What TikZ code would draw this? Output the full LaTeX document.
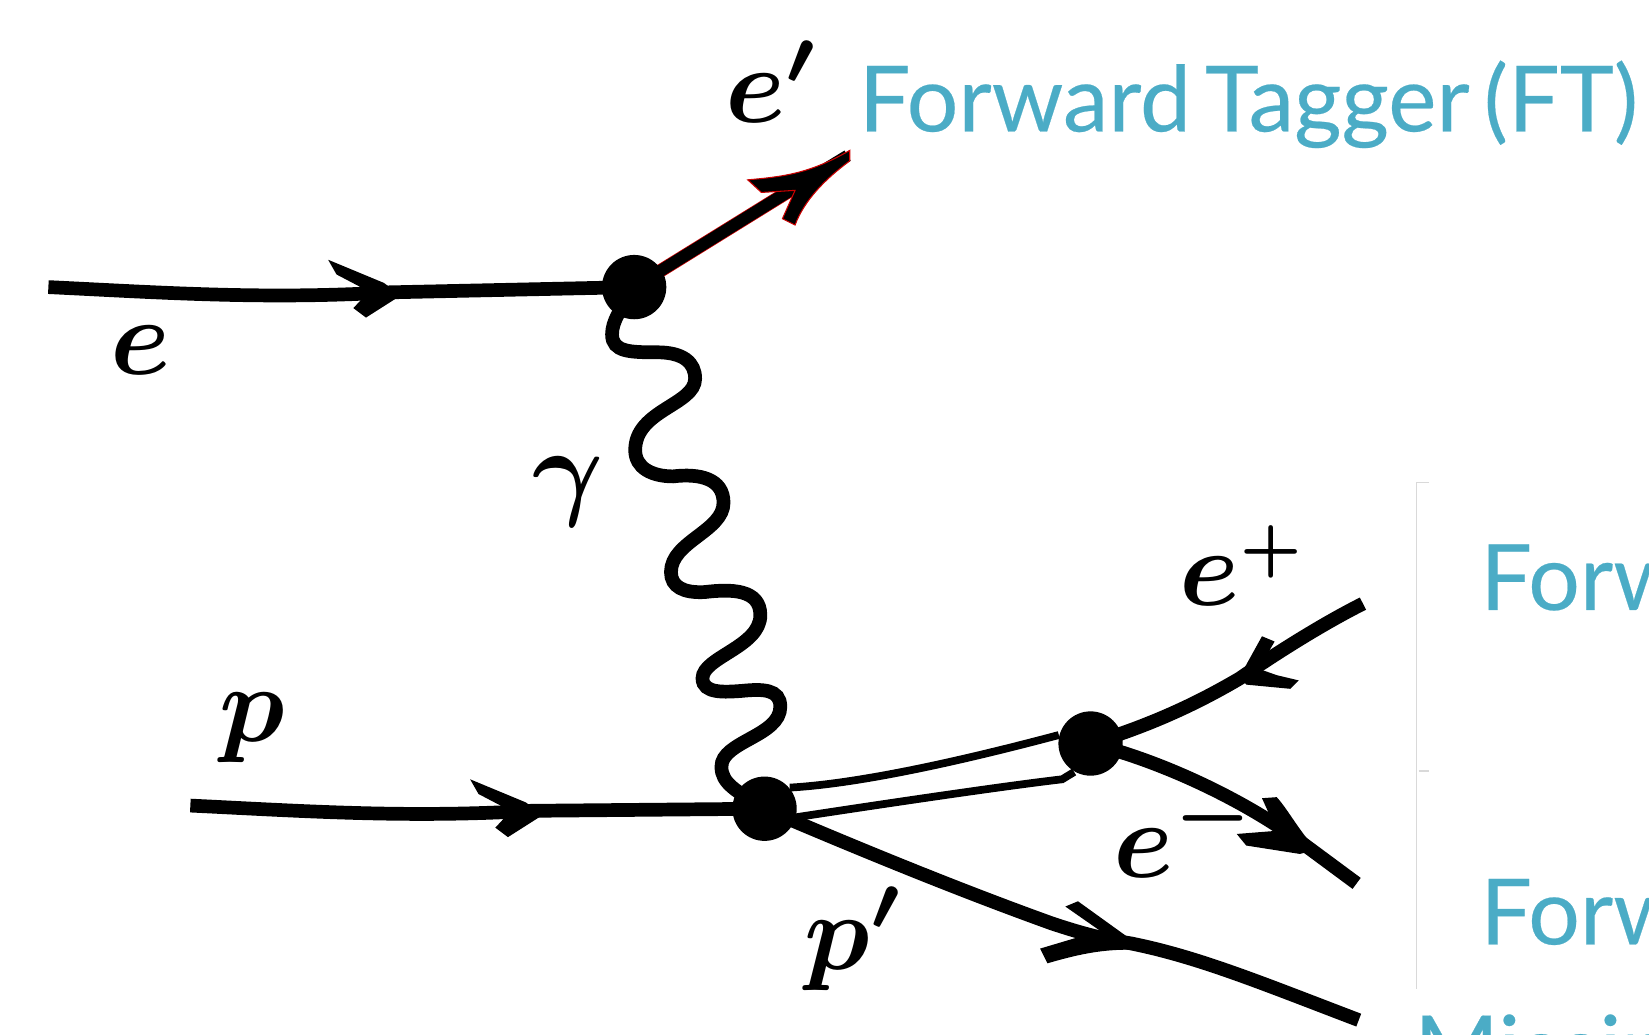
\documentclass[tikz,border=0pt]{standalone}
\usepackage{amsmath,amssymb}
\usepackage{xcolor}
\usepackage{fontspec}
\setmainfont{Lato}[WordSpace=0.6]
\definecolor{ftblue}{HTML}{4BACC6}
\tikzset{
  vertexdot/.style={circle,fill=black,inner sep=0pt,minimum size=18.3pt},
  leg/.style={line width=3.9pt},
  thinleg/.style={line width=2.2pt},
  tiplabel/.style={scale=3.1,inner sep=0pt},
  detector/.style={text=ftblue,anchor=base west,inner sep=0pt,font=\fontsize{26}{28}\selectfont\addfontfeature{FakeBold=0.25}},
  bracket/.style={black!15,line width=0.4pt},
}
\begin{document}
\begin{tikzpicture}[x=0.10517mm,y=-0.10517mm]
        \useasboundingbox (0,0) rectangle (1568,984);
        \clip (0,0) rectangle (1568,984);
        \coordinate (ein) at (46,273);
        \coordinate (eout) at (806,148);
        \coordinate (pin) at (181,766);
        \coordinate (pout) at (1292,970);
        \coordinate (eplus) at (1296,574);
        \coordinate (eminus) at (1290,840);
        \coordinate (ebend) at (750,182);
        \draw[red!80!black,line width=3.8pt] (603,273) -- (ebend);
        \node[vertexdot] at (603,273) (A) {};
        \node[vertexdot] at (727,769) (B) {};
        \node[vertexdot] at (1037,707) (C) {};
        % incoming and outgoing legs
        \draw[leg] (ein) .. controls (150,278) and (250,285) .. (370,278) -- (A.center);
        \draw[leg] (pin) .. controls (285,771) and (385,778) .. (505,771) -- (B.center);
        \draw[line width=3.4pt] (A.center) -- (ebend) -- (eout);
        \draw[leg] (B.center) .. controls (800,800) and (900,842) .. (1000,878) .. controls (1030,888) and (1050,893) .. (1075,897) .. controls (1140,910) and (1200,935) .. (pout);
        \draw[leg] (C.center) .. controls (1100,688) and (1145,665) .. (1179,645) .. controls (1215,620) and (1260,592) .. (eplus);
        \draw[leg] (C.center) .. controls (1110,725) and (1190,765) .. (1240,803) -- (eminus);
        % pair line
        \draw[thinleg] (B.40) .. controls (820,745) and (920,722) .. (C.165);
        \draw[thinleg] (B.-15) .. controls (830,766) and (950,748) .. (1010,741) -- (C.240);
        % photon
        \draw[line width=3.9pt] (A.center) .. controls (590,295) and (582,305) .. (582,318)
            .. controls (582,335) and (600,335) .. (625,335)
            .. controls (650,335) and (661,345) .. (661,360)
            .. controls (661,385) and (604,390) .. (604,428)
            .. controls (604,445) and (620,453) .. (640,453)
            .. controls (665,450) and (688,455) .. (688,478)
            .. controls (688,505) and (638,515) .. (638,544)
            .. controls (638,558) and (650,564) .. (670,563)
            .. controls (695,560) and (723,560) .. (723,585)
            .. controls (723,615) and (668,625) .. (668,645)
            .. controls (668,660) and (690,658) .. (705,657)
            .. controls (725,655) and (742,655) .. (742,672)
            .. controls (742,700) and (686,705) .. (686,729)
            .. controls (686,745) and (700,752) .. (B.center);
        % arrow heads
        \fill (381,281) -- (365,269) -- (312,247) -- (320,261) -- (341,272) -- (350,278) -- (336,293) -- (348,302) -- cycle;
        \fill (516,775) -- (500,763) -- (447,741) -- (455,755) -- (476,766) -- (485,772) -- (471,787) -- (483,796) -- cycle;
        \filldraw[draw=red!80!black,line width=0.3pt] (808,143) .. controls (770,165) and (745,168) .. (711,171) -- (724,183) -- (756,181) -- (744,208) -- (756,214) .. controls (765,190) and (785,170) .. (808,153) -- cycle;
        \fill (1179,643) -- (1200,605) -- (1212,610) -- (1197,636) -- (1214,642) -- (1235,647) -- (1227,655) -- (1185,651) -- cycle;
        \fill (1252,808) .. controls (1235,790) and (1225,770) .. (1214,758) -- (1200,759) -- (1214,790) -- (1176,793) -- (1185,804) -- (1236,812) -- cycle;
        \fill (1075,893) -- (1025,857) -- (1013,862) -- (1046,885) -- (989,902) -- (996,916) .. controls (1030,906) and (1050,903) .. (1075,903) -- cycle;
        % labels
        \node[tiplabel] at (134,333) (elabel) {$\boldsymbol{e}$};
        \node[tiplabel] at (735,78) (eplabel) {$\boldsymbol{e'}$};
        \node[tiplabel] at (240,692) (plabel) {$\boldsymbol{p}$};
        \node[tiplabel] at (540,468) (gammalabel) {$\boldsymbol{\gamma}$};
        \node[tiplabel] at (1183,538) (epluslabel) {$\boldsymbol{e^{\scriptscriptstyle +}}$};
        \node[tiplabel] at (1127,791) (eminuslabel) {$\boldsymbol{e^-}$};
        \node[tiplabel] at (813,893) (pplabel) {$\boldsymbol{p'}$};
        % detectors
        \node[detector] at (816,125) (ft) {Forward Tagger (FT)};
        \node[detector] at (1407,580) (fd) {Forw};
        \node[detector] at (1407,898) (fc) {Forw};
        \node[detector] at (1344,1028) (miss) {Missing};
        \draw[bracket] (1359,459) -- (1347,459) -- (1347,940);
        \draw[bracket] (1349,733) -- (1359,733);
    \end{tikzpicture}
\end{document}
